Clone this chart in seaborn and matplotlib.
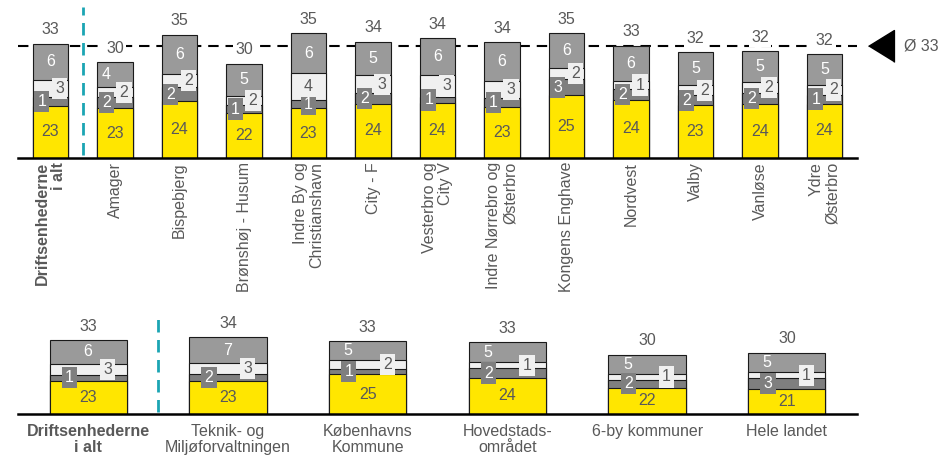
import numpy as np
import pandas as pd
import seaborn as sns
import matplotlib
matplotlib.use("Agg")
import matplotlib.pyplot as plt

# ---------------- data ----------------
top_categories = ["Driftsenhederne\ni alt", "Amager", "Bispebjerg", "Brønshøj - Husum",
                  "Indre By og\nChristianshavn", "City - F", "Vesterbro og\nCity V",
                  "Indre Nørrebro og\nØsterbro", "Kongens Enghave", "Nordvest", "Valby",
                  "Vanløse", "Ydre\nØsterbro"]
top_yellow = [23.3, 22.94, 24.07, 22.23, 22.94, 23.7, 23.75, 23.1, 25.03, 24.23, 23.42, 23.58, 23.68]
top_dark = [1.45, 1.77, 2.25, 1.19, 1.34, 1.65, 1.06, 1.45, 2.57, 1.77, 1.61, 1.82, 1.45]
top_light = [2.8, 1.61, 2.14, 1.55, 4.34, 2.9, 3.44, 2.78, 1.82, 1.33, 1.61, 1.72, 1.55]
top_grey = [5.8, 4.02, 6.32, 5.14, 6.38, 5.4, 5.99, 6.22, 5.58, 5.67, 5.31, 4.98, 4.93]

bottom_categories = ["Driftsenhederne\ni alt", "Teknik- og\nMiljøforvaltningen",
                     "Københavns\nKommune", "Hovedstads-\nområdet", "6-by kommuner",
                     "Hele landet"]
bottom_yellow = [23.3, 23.21, 24.88, 24.03, 21.54, 21.29]
bottom_dark = [1.45, 1.81, 1.39, 2.34, 1.99, 2.59]
bottom_light = [2.8, 2.59, 2.09, 1.49, 1.45, 1.49]
bottom_grey = [5.8, 6.54, 4.8, 4.98, 4.81, 4.88]

average_value = 33
average_label = "Ø 33"

# ---------------- style ----------------
YELLOW = "#FFE600"
DARK = "#7f7f7f"
LIGHT = "#f0f0f0"
GREY = "#9a9a9a"
EDGE = "#1a1a1a"
TXT = "#595959"
TEAL = "#1BA5B3"
FS = 11.5
BAR_W = 0.553
YMIN = 15

sns.set_theme(style="white")
plt.rcParams["font.family"] = ["Liberation Sans", "DejaVu Sans"]

fig = plt.figure(figsize=(9.43, 4.59), dpi=100)
ax_top = fig.add_axes([0.0194, 0.6564, 0.8891, 0.3277])
ax_bot = fig.add_axes([0.0194, 0.098, 0.8891, 0.2207])


def draw_panel(ax, cats, yellow, dark, light, grey, ymax, dark_dx, light_dx, grey_dx):
    df = pd.DataFrame({"cat": cats, "yellow": yellow, "dark": dark,
                       "light": light, "grey": grey})
    df["c1"] = df["yellow"]
    df["c2"] = df["c1"] + df["dark"]
    df["c3"] = df["c2"] + df["light"]
    df["c4"] = df["c3"] + df["grey"]
    for col, color in [("c4", GREY), ("c3", LIGHT), ("c2", DARK), ("c1", YELLOW)]:
        sns.barplot(data=df, x="cat", y=col, order=cats, color=color, saturation=1,
                    width=BAR_W, edgecolor=EDGE, linewidth=0.8, errorbar=None,
                    ax=ax, zorder=2)
    ax.set_ylim(YMIN, ymax)
    ax.set_xlim(-0.5, len(cats) - 0.5)
    for i, r in df.iterrows():
        ax.text(i, (YMIN + r.c1) / 2, f"{round(r.yellow)}", ha="center", va="center",
                color=TXT, fontsize=FS, zorder=4)
        ax.text(i + dark_dx[i], (r.c1 + r.c2) / 2, f"{round(r.dark)}", ha="center",
                va="center", color="white", fontsize=FS, zorder=5,
                bbox=dict(boxstyle="square,pad=0.2", fc=DARK, ec="none"))
        ax.text(i + light_dx[i], (r.c2 + r.c3) / 2, f"{round(r.light)}", ha="center",
                va="center", color=TXT, fontsize=FS, zorder=5,
                bbox=dict(boxstyle="square,pad=0.2", fc=LIGHT, ec="none"))
        ax.text(i + grey_dx[i], (r.c3 + r.c4) / 2, f"{round(r.grey)}", ha="center",
                va="center", color="white", fontsize=FS, zorder=4)
        ax.annotate(f"{round(r.c4)}", xy=(i, r.c4), xytext=(0, 10),
                    textcoords="offset points", ha="center", va="center",
                    color=TXT, fontsize=FS, annotation_clip=False, zorder=5,
                    bbox=dict(boxstyle="square,pad=0.15", fc="white", ec="none"))
    ax.set_xlabel("")
    ax.set_ylabel("")
    ax.set_yticks([])
    for s in ["top", "right", "left"]:
        ax.spines[s].set_visible(False)
    ax.spines["bottom"].set_color("black")
    ax.spines["bottom"].set_linewidth(1.8)
    ax.spines["bottom"].set_zorder(6)
    ax.axvline(0.5, ymin=0.015, ymax=1, color=TEAL, lw=2.0,
               ls=(0, (4.5, 2.7)), zorder=1)


n_top = len(top_categories)
top_dark_dx = [-0.135] * n_top
top_light_dx = [0.14] * n_top
top_grey_dx = [0.0] * n_top
top_dark_dx[4] = 0.0
top_light_dx[4] = 0.0
top_grey_dx[1] = -0.14

n_bot = len(bottom_categories)
bot_dark_dx = [-0.135] * n_bot
bot_light_dx = [0.14] * n_bot
bot_grey_dx = [0.0, 0.0, -0.14, -0.14, -0.14, -0.14]

ax_top.axhline(average_value, color="black", lw=1.5, ls=(0, (5, 3.3)), zorder=1)
draw_panel(ax_top, top_categories, top_yellow, top_dark, top_light, top_grey, 39.17,
           top_dark_dx, top_light_dx, top_grey_dx)
draw_panel(ax_bot, bottom_categories, bottom_yellow, bottom_dark, bottom_light,
           bottom_grey, 40.2, bot_dark_dx, bot_light_dx, bot_grey_dx)

# tick labels
ax_top.set_xticks(range(n_top))
ax_top.set_xticklabels(top_categories, rotation=90, ha="center", va="top",
                       multialignment="right", color=TXT, fontsize=FS, linespacing=1.1)
ax_top.tick_params(axis="x", length=0, pad=3)
ax_top.get_xticklabels()[0].set_fontweight("bold")

ax_bot.set_xticks(range(n_bot))
ax_bot.set_xticklabels(bottom_categories, ha="center", va="top",
                       multialignment="center", color=TXT, fontsize=FS, linespacing=1.1)
ax_bot.tick_params(axis="x", length=0, pad=7)
ax_bot.get_xticklabels()[0].set_fontweight("bold")

# average marker
ax_top.plot([12.88], [average_value], marker=[(-0.81, 0), (0.81, 1), (0.81, -1)],
            ms=23, color="black", clip_on=False, zorder=6)
ax_top.text(13.24, average_value, average_label, ha="left", va="center", color=TXT,
            fontsize=FS, clip_on=False)

fig.savefig("out.png", dpi=100)
